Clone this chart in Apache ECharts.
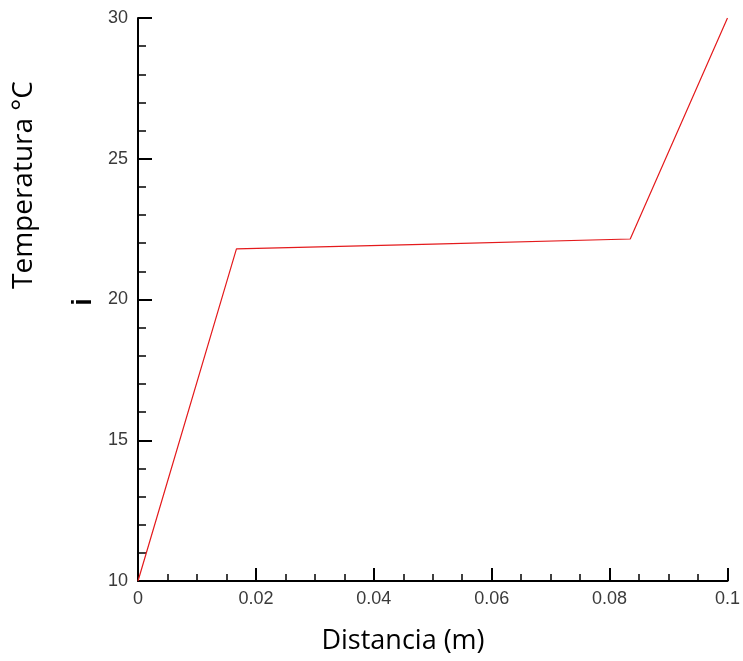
<!DOCTYPE html>
<html>
<head>
<meta charset="utf-8">
<script src="https://cdn.jsdelivr.net/npm/echarts@6/dist/echarts.min.js"></script>
<style>html,body{margin:0;padding:0;background:#fff}#c{width:743px;height:661px}</style>
</head>
<body>
<div id="c"></div>
<script>
const distancia = [0, 0.0167, 0.05, 0.0835, 0.1];
const temperatura = [10, 21.8, 21.97, 22.15, 30];
const xTitle = 'Distancia (m)';
const yTitle = 'Temperatura °C';
const strayMark = 'i';

const chart = echarts.init(document.getElementById('c'));
const axisLabelStyle = { color: '#3a3a3a', fontFamily: 'Liberation Sans', fontSize: 18 };
chart.setOption({
  animation: false,
  grid: { left: 138, right: 15, top: 18, bottom: 80, containLabel: false },
  xAxis: {
    type: 'value', min: 0, max: 0.1, interval: 0.02,
    axisLine: { lineStyle: { color: '#000', width: 2 } },
    axisTick: { inside: true, length: 13, lineStyle: { color: '#000', width: 2 } },
    minorTick: { show: true, splitNumber: 4, length: 7, lineStyle: { color: '#000', width: 1.5 } },
    splitLine: { show: false },
    axisLabel: Object.assign({ margin: 9, formatter: v => String(+v.toFixed(4)) }, axisLabelStyle)
  },
  yAxis: {
    type: 'value', min: 10, max: 30, interval: 5,
    axisLine: { lineStyle: { color: '#000', width: 2 } },
    axisTick: { inside: true, length: 14, lineStyle: { color: '#000', width: 2 } },
    minorTick: { show: true, splitNumber: 5, length: 8, lineStyle: { color: '#000', width: 1.5 } },
    splitLine: { show: false },
    axisLabel: Object.assign({ margin: 10 }, axisLabelStyle)
  },
  series: [{
    type: 'line',
    data: distancia.map((x, i) => [x, temperatura[i]]),
    showSymbol: false,
    lineStyle: { color: '#e41a1c', width: 1.2 }
  }],
  graphic: [
    { type: 'text', x: 403, y: 641, style: { text: xTitle, font: '27px "Open Sans"', fill: '#000', align: 'center', verticalAlign: 'middle' } },
    { type: 'text', x: 24, y: 185, rotation: Math.PI / 2, style: { text: yTitle, font: '28px "Open Sans"', fill: '#000', align: 'center', verticalAlign: 'middle' } },
    { type: 'text', x: 84, y: 302, rotation: Math.PI / 2, style: { text: strayMark, font: 'bold 27px "Liberation Sans"', fill: '#000', align: 'center', verticalAlign: 'middle' } }
  ]
});
</script>
</body>
</html>
